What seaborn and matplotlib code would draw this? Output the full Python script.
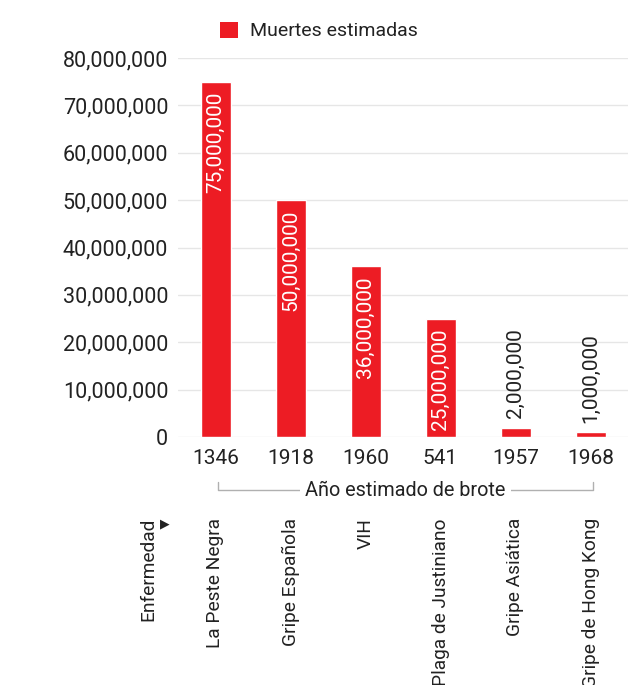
import matplotlib
matplotlib.use("Agg")
import matplotlib.pyplot as plt
import matplotlib.ticker as mticker
from matplotlib.patches import Patch
import seaborn as sns
import pandas as pd

diseases = ["La Peste Negra", "Gripe Española", "VIH", "Plaga de Justiniano",
            "Gripe Asiática", "Gripe de Hong Kong"]
years = ["1346", "1918", "1960", "541", "1957", "1968"]
deaths = [75000000, 50000000, 36000000, 25000000, 2000000, 1000000]
series_name = "Muertes estimadas"
x_title = "Año estimado de brote"
cat_title = "Enfermedad"

RED = "#ED1C24"
TXT = "#222222"

sns.set_theme(style="white")
plt.rcParams["font.family"] = ["Roboto", "DejaVu Sans"]

df = pd.DataFrame({"Enfermedad": diseases, "Muertes": deaths})

fig = plt.figure(figsize=(6.38, 6.85), dpi=100)
ax = fig.add_axes([178/638, 1-437/685, 450/638, 379/685])

sns.barplot(data=df, x="Enfermedad", y="Muertes", color=RED, width=0.4,
            saturation=1, ax=ax, zorder=3)

ax.set_ylim(0, 80000000)
ax.set_xlim(-0.5, len(diseases) - 0.5)
ax.yaxis.set_major_locator(mticker.MultipleLocator(10000000))
ax.yaxis.set_major_formatter(mticker.FuncFormatter(lambda v, p: f"{int(v):,}"))
ax.grid(axis="y", color="#e6e6e6", linewidth=1, zorder=0)
ax.set_axisbelow(True)
for s in ax.spines.values():
    s.set_visible(False)
ax.set_xlabel("")
ax.set_ylabel("")
ax.set_xticks(range(len(years)))
ax.set_xticklabels(years)
ax.tick_params(axis="x", length=0, pad=9, labelsize=15, labelcolor=TXT)
ax.tick_params(axis="y", length=0, pad=7, labelsize=15.5, labelcolor=TXT)

# value labels
for i, v in enumerate(deaths):
    label = f"{v:,}"
    if v > 10000000:
        ax.annotate(label, (i, v), xytext=(0, -7), textcoords="offset points",
                    rotation=90, ha="center", va="top", color="white", fontsize=15)
    else:
        ax.annotate(label, (i, v), xytext=(0, 7), textcoords="offset points",
                    rotation=90, ha="center", va="bottom", color=TXT, fontsize=15)

# bracket for year axis
tr = ax.get_xaxis_transform()
yb = (437 - 490) / 379
yt = (437 - 482) / 379
x0, x1 = 0.03, 5.03
ax.plot([x0, x0, x1, x1], [yt, yb, yb, yt], transform=tr, color="#b0b0b0",
        linewidth=1, clip_on=False)
ax.text((x0 + x1) / 2 + 0.0, yb, x_title, transform=tr, ha="center", va="center",
        fontsize=14.3, color=TXT,
        bbox=dict(facecolor="white", edgecolor="none", pad=4))

# disease labels
ytop = (437 - 518) / 379
for i, d in enumerate(diseases):
    ax.text(i, ytop, d, transform=tr, rotation=90, ha="center", va="top",
            fontsize=13.8, color=TXT)

ax.text(-0.9, ytop, cat_title, transform=tr, rotation=90, ha="center", va="top",
        fontsize=13.8, color=TXT)
ax.text(-0.68, ytop + 0.002, "\u25B6", transform=tr, ha="center", va="top",
        fontsize=9, color=TXT, family="DejaVu Sans")

# legend
fig.legend(handles=[Patch(facecolor=RED, edgecolor="none", label=series_name)],
           loc="center", bbox_to_anchor=(0.5, 1 - 31/685), frameon=False,
           fontsize=14, handlelength=0.9, handleheight=0.9, handletextpad=0.6,
           labelcolor=TXT)

fig.savefig("out.png", dpi=100)
